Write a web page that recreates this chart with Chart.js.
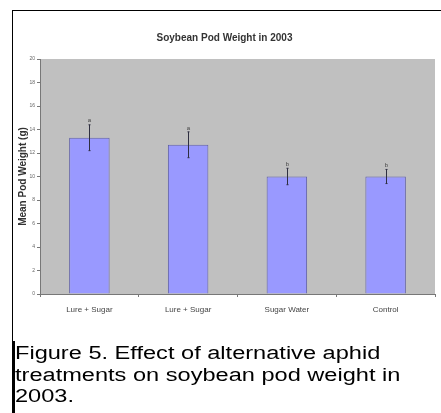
<!DOCTYPE html>
<html>
<head>
<meta charset="utf-8">
<script src="https://cdn.jsdelivr.net/npm/chart.js@4"></script>
<style>
  body { margin: 0; background: #fff; width: 441px; height: 413px; overflow: hidden; position: relative; }
  #frame { position: absolute; left: 12px; top: 10px; width: 429px; height: 331px; border-top: 1px solid #000; border-left: 1px solid #000; }
  #wrap { position: absolute; left: 1px; top: 1px; width: 428px; height: 330px; }
  #caption { position: absolute; left: 12px; top: 341px; height: 72px; width: 426px; border-left: 3px solid #000; padding-top: 2px; box-sizing: border-box; }
  #caption span { display: block; font-family: "Liberation Sans", Arial, sans-serif; font-size: 18px; line-height: 21.5px; color: #000; white-space: nowrap; transform: scaleX(1.31); transform-origin: 0 0; }
</style>
</head>
<body>
<div id="frame"><div id="wrap"><canvas id="podChart"></canvas></div></div>
<div id="caption"><span>Figure 5. Effect of alternative aphid<br>treatments on soybean pod weight in<br>2003.</span></div>
<script>
// Soybean pod weight data
const treatments = ["Lure + Sugar", "Lure + Sugar", "Sugar Water", "Control"];
const meanWeight = [13.3, 12.7, 10.0, 10.0];
const stdError = [1.1, 1.1, 0.7, 0.6];
const groupLetters = ["a", "a", "b", "b"];
const yTicks = [0, 2, 4, 6, 8, 10, 12, 14, 16, 18, 20];

const FONT = "'Liberation Sans', Arial, sans-serif";

// gray plot area, like the old Excel charts
const plotBackground = {
  id: "plotBackground",
  beforeDraw(chart) {
    const { ctx, chartArea } = chart;
    ctx.save();
    ctx.fillStyle = "#c0c0c0";
    ctx.fillRect(chartArea.left, chartArea.top, chartArea.right - chartArea.left, chartArea.bottom - chartArea.top);
    ctx.restore();
  },
};

// error bars + significance letters
const errorBars = {
  id: "errorBars",
  afterDatasetsDraw(chart) {
    const { ctx } = chart;
    const meta = chart.getDatasetMeta(0);
    const y = chart.scales.y;
    ctx.save();
    meta.data.forEach((bar, i) => {
      const x = Math.round(bar.x) + 0.5;
      const top = y.getPixelForValue(meanWeight[i] + stdError[i]);
      const bottom = y.getPixelForValue(meanWeight[i] - stdError[i]);
      ctx.strokeStyle = "#2e2e40";
      ctx.lineWidth = 1;
      ctx.beginPath();
      ctx.moveTo(x, top);
      ctx.lineTo(x, bottom);
      ctx.moveTo(x - 1, top);
      ctx.lineTo(x + 1, top);
      ctx.moveTo(x - 1, bottom);
      ctx.lineTo(x + 1, bottom);
      ctx.stroke();
      ctx.fillStyle = "#444";
      ctx.font = "6px " + FONT;
      ctx.textAlign = "center";
      ctx.textBaseline = "bottom";
      ctx.fillText(groupLetters[i], x, top - 1);
    });
    ctx.restore();
  },
};

new Chart(document.getElementById("podChart"), {
  type: "bar",
  data: {
    labels: treatments,
    datasets: [
      {
        data: meanWeight,
        backgroundColor: "#9999ff",
        borderColor: "#6060a8",
        borderWidth: 1,
        categoryPercentage: 1,
        barPercentage: 0.41,
      },
    ],
  },
  options: {
    responsive: true,
    maintainAspectRatio: false,
    animation: false,
    layout: { padding: { left: 0, right: 7, top: 0, bottom: 0 } },
    plugins: {
      legend: { display: false },
      tooltip: { enabled: false },
      title: {
        display: true,
        text: "Soybean Pod Weight in 2003",
        color: "#333",
        font: { family: FONT, size: 10, weight: "bold" },
        padding: { top: 20, bottom: 15 },
      },
    },
    scales: {
      x: {
        afterFit(scale) { scale.height = 48; },
        grid: { drawOnChartArea: false, drawTicks: true, tickLength: 3, color: "#777" },
        border: { color: "#777" },
        ticks: { color: "#444", padding: 8, font: { family: FONT, size: 8 } },
      },
      y: {
        min: 0,
        max: 20,
        afterFit(scale) { scale.width = 26; },
        afterBuildTicks(scale) { scale.ticks = yTicks.map((v) => ({ value: v })); },
        grid: { drawOnChartArea: false, drawTicks: true, tickLength: 3, color: "#777" },
        border: { color: "#777" },
        ticks: { color: "#666", padding: 2, font: { family: FONT, size: 5 } },
        title: {
          display: true,
          text: "Mean Pod Weight (g)",
          color: "#333",
          font: { family: FONT, size: 10, weight: "bold" },
          padding: { top: 3, bottom: 0 },
        },
      },
    },
  },
  plugins: [plotBackground, errorBars],
});
</script>
</body>
</html>
